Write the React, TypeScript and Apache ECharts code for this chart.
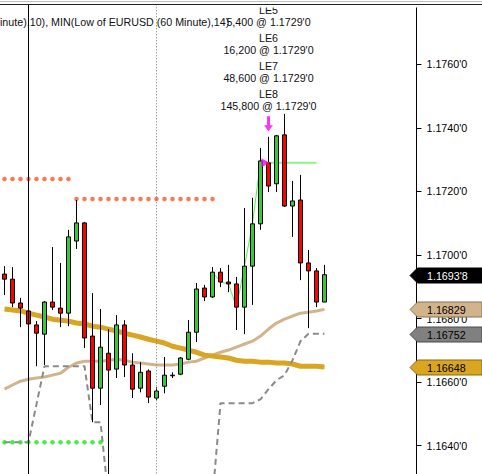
import React, { useEffect, useRef } from "react";
import * as echarts from "echarts";

// ---- data (EURUSD, 60 minute bars) ----
const OPENS = [
  1.1694, 1.16924, 1.16849, 1.16824, 1.1678, 1.16751, 1.16852, 1.16833, 1.16817, 1.17044,
  1.17101, 1.16745, 1.16581, 1.16691, 1.16641, 1.1678, 1.16654, 1.16581, 1.16635, 1.1655,
  1.16587, 1.1662, 1.16625, 1.16672, 1.16757, 1.16896, 1.16868, 1.16946, 1.16915, 1.16909,
  1.16836, 1.16965, 1.17098, 1.1729, 1.17224, 1.17378, 1.17154, 1.17173, 1.16975, 1.1695,
  1.16852,
];
const CLOSES = [
  1.16924, 1.16849, 1.16833, 1.16783, 1.16754, 1.16852, 1.16836, 1.16817, 1.17057, 1.17101,
  1.16739, 1.16581, 1.1671, 1.16638, 1.1678, 1.16654, 1.16578, 1.16631, 1.16553, 1.16572,
  1.16622, 1.16622, 1.16676, 1.16757, 1.16893, 1.16868, 1.16946, 1.16915, 1.16909, 1.16836,
  1.16965, 1.17098, 1.17296, 1.17217, 1.17375, 1.17154, 1.1717, 1.16975, 1.1695, 1.16852,
  1.16938,
];
const LOWS = [
  1.16874, 1.16836, 1.16773, 1.16757, 1.1665, 1.16654, 1.16827, 1.16773, 1.16776, 1.17019,
  1.16707, 1.16474, 1.16528, 1.16235, 1.16613, 1.16616, 1.1655, 1.16568, 1.16534, 1.16544,
  1.16565, 1.16613, 1.16622, 1.16669, 1.16726, 1.16855, 1.16865, 1.16899, 1.16883, 1.16764,
  1.16751, 1.16843, 1.17079, 1.17198, 1.17198, 1.17151, 1.17057, 1.16921, 1.1677, 1.16836,
  1.16852,
];
const HIGHS = [
  1.16965, 1.16962, 1.16865, 1.16836, 1.16792, 1.16855, 1.17025, 1.16975, 1.17079, 1.17173,
  1.17104, 1.1688, 1.1683, 1.16767, 1.16811, 1.16795, 1.16691, 1.16663, 1.1664, 1.16584,
  1.16679, 1.16631, 1.16679, 1.16795, 1.16912, 1.16906, 1.16962, 1.16959, 1.16969, 1.16931,
  1.17148, 1.1718, 1.17337, 1.17372, 1.17378, 1.17444, 1.17233, 1.17252, 1.17016, 1.16959,
  1.16969,
];
const GOLD_MA = [
  1.1683, 1.16827, 1.16824, 1.16817, 1.16811, 1.16805, 1.16798, 1.16795, 1.16792, 1.16786,
  1.16783, 1.16776, 1.16773, 1.16767, 1.16761, 1.16754, 1.16748, 1.16742, 1.16735, 1.16729,
  1.16723, 1.16713, 1.16707, 1.16701, 1.16694, 1.16685, 1.16682, 1.16679, 1.16676, 1.16669,
  1.16666, 1.16666, 1.16663, 1.16663, 1.1666, 1.1666, 1.16657, 1.1665, 1.1665, 1.1665,
  1.16648,
];
const TAN_MA = [
  1.16578, 1.16591, 1.16603, 1.16609, 1.16613, 1.16616, 1.16622, 1.16628, 1.16647, 1.1666,
  1.16666, 1.16666, 1.16666, 1.16669, 1.16672, 1.16669, 1.16663, 1.1666, 1.16657, 1.16654,
  1.16654, 1.16654, 1.16657, 1.16663, 1.16666, 1.16676, 1.16685, 1.16694, 1.16701, 1.1671,
  1.1672, 1.16729, 1.16745, 1.16767, 1.16786, 1.16798, 1.16808, 1.16817, 1.1682, 1.16824,
  1.16829,
];
const MIN_LOW = [
  1.16411, 1.16411, 1.16411, 1.16411, 1.16531, 1.1665, 1.1665, 1.1665, 1.1665, 1.1665,
  1.1665, 1.16474, 1.16474, 1.16235, 1.16235, 1.16235, 1.16235, 1.16235, 1.16235, 1.16235,
  1.16235, 1.16235, 1.16235, 1.16235, 1.16235, 1.16235, 1.16235, 1.16534, 1.16534, 1.16534,
  1.16534, 1.16534, 1.16546, 1.16578, 1.16606, 1.16622, 1.16669, 1.16729, 1.16752, 1.16752,
  1.16752,
];
const STOP_LEVELS = [
  { from: 0, to: 8, price: 1.17239 },
  { from: 9, to: 26, price: 1.17176 },
];
const SUPPORT_LEVEL = { from: 0, to: 12, price: 1.16411 };
const TRAIL_START = 26;
const TRAIL_PATH = [1.16946, 1.16915, 1.16909, 1.16836, 1.16965, 1.17098, 1.17296, 1.1729];
const ENTRY_BAR = 33;
const ENTRY_PRICE = 1.1729;
const POSITION_END = 39;
const ORDERS = [
  { name: "LE5", qty: "5,400" },
  { name: "LE6", qty: "16,200" },
  { name: "LE7", qty: "48,600" },
  { name: "LE8", qty: "145,800" },
];
const SESSION_BAR = 3;
const DOTTED_BAR = 19;
const LEGEND_TEXT = "inute),10), MIN(Low of EURUSD (60 Minute),14)";
const SLOTS = 52;
const Y_MIN = 1.162;
const Y_MAX = 1.1778806;
const Y_STEP = 0.002;

const FONT = '"Liberation Sans", Arial, sans-serif';
const FS = 10.7;

const fmtTS = (v: number) => {
  const s = v.toFixed(5);
  return s.slice(0, 6) + "'" + s.slice(6);
};

export default function App() {
  const ref = useRef<HTMLDivElement>(null);
  useEffect(() => {
    const chart = echarts.init(ref.current!, null, { renderer: "svg" });
    const cats = Array.from({ length: SLOTS }, (_, i) => String(i));
    const candles = OPENS.map((o, i) => [o, CLOSES[i], LOWS[i], HIGHS[i]]);
    const levelPts = (lv: { from: number; to: number; price: number }) => {
      const pts: any[] = [];
      for (let i = lv.from; i <= lv.to; i++) pts.push([String(i), lv.price]);
      return pts;
    };
    const trail = TRAIL_PATH.map((v, i) => [String(TRAIL_START + i), v]);
    const position: any[] = [];
    for (let i = ENTRY_BAR; i <= POSITION_END; i++) position.push([String(i), ENTRY_PRICE]);

    chart.setOption({
      animation: false,
      backgroundColor: "#ffffff",
      grid: {
        left: 0.5, width: 416, top: 4.5, height: 504.8,
        containLabel: false, outerBoundsMode: "none",
      },
      xAxis: { type: "category", data: cats, show: false, boundaryGap: true },
      yAxis: {
        type: "value",
        position: "right",
        min: Y_MIN,
        max: Y_MAX,
        interval: Y_STEP,
        axisLine: { show: true, lineStyle: { color: "#000", width: 1 } },
        axisTick: { show: true, length: 5, lineStyle: { color: "#000" } },
        splitLine: { show: false },
        axisLabel: {
          margin: 10,
          color: "#000",
          fontSize: FS,
          fontFamily: FONT,
          showMaxLabel: false,
          showMinLabel: false,
          formatter: (v: number) => v.toFixed(4) + "'0",
        },
      },
      series: [
        {
          type: "line", data: TAN_MA, symbol: "none", silent: true,
          lineStyle: { color: "#D2B48C", width: 3 }, z: 2,
        },
        {
          type: "line", data: GOLD_MA, symbol: "none", silent: true,
          lineStyle: { color: "#DAA520", width: 5 }, z: 2,
        },
        {
          type: "line", data: MIN_LOW, symbol: "none", silent: true,
          lineStyle: { color: "#8a8a8a", width: 2, type: [6, 4] }, z: 2,
        },
        ...STOP_LEVELS.map((lv) => ({
          type: "scatter", data: levelPts(lv), symbol: "circle", symbolSize: 4.5, silent: true,
          itemStyle: { color: "#ff5522" }, z: 2,
        })),
        {
          type: "scatter", data: levelPts(SUPPORT_LEVEL), symbol: "circle", symbolSize: 4.5, silent: true,
          itemStyle: { color: "#11ee11" }, z: 2,
        },
        {
          type: "line", data: trail, symbol: "none", silent: true,
          lineStyle: { color: "#55ee55", width: 1 }, z: 2,
        },
        {
          type: "line", data: position, symbol: "none", silent: true,
          lineStyle: { color: "#88f888", width: 2 }, z: 2,
        },
        {
          type: "candlestick",
          data: candles,
          barWidth: 5,
          silent: true,
          z: 3,
          itemStyle: {
            color: "#33cc33",
            color0: "#ff0000",
            borderColor: "#000",
            borderColor0: "#000",
            borderColorDoji: "#000",
            borderWidth: 1,
          },
          markLine: {
            silent: true,
            symbol: "none",
            label: { show: false },
            data: [
              { xAxis: SESSION_BAR, lineStyle: { color: "#000", width: 1, type: "solid" } },
              { xAxis: DOTTED_BAR, lineStyle: { color: "#777", width: 1, type: [1, 2] } },
            ],
          },
        },
        {
          type: "scatter",
          data: [[String(ENTRY_BAR), HIGHS[ENTRY_BAR]]],
          symbol: "path://M3,0 L6,0 L6,9 L9,9 L4.5,15 L0,9 L3,9 Z",
          symbolSize: [9, 15],
          symbolOffset: [0, -13],
          silent: true,
          itemStyle: { color: "#ff00ff" },
          z: 4,
        },
        {
          type: "scatter",
          data: [[String(ENTRY_BAR), ENTRY_PRICE]],
          symbol: "triangle",
          symbolSize: [9, 8],
          symbolRotate: -90,
          symbolOffset: [-3, 0],
          silent: true,
          itemStyle: { color: "#ff00ff" },
          z: 4,
        },
      ],
    });

    const xPix = (i: number) => chart.convertToPixel({ xAxisIndex: 0 }, String(i)) as number;
    const yPix = (v: number) => chart.convertToPixel({ yAxisIndex: 0 }, v) as number;

    const tagDefs = [
      { value: CLOSES[CLOSES.length - 1], text: fmtTS(CLOSES[CLOSES.length - 1]), fill: "#000", stroke: "#000", color: "#fff" },
      { value: TAN_MA[TAN_MA.length - 1], text: TAN_MA[TAN_MA.length - 1].toFixed(5), fill: "#D2B48C", stroke: "#8b7355", color: "#000" },
      { value: MIN_LOW[MIN_LOW.length - 1], text: MIN_LOW[MIN_LOW.length - 1].toFixed(5), fill: "#808080", stroke: "#4a4a4a", color: "#000" },
      { value: GOLD_MA[GOLD_MA.length - 1], text: GOLD_MA[GOLD_MA.length - 1].toFixed(5), fill: "#DAA520", stroke: "#8b6914", color: "#000" },
    ];
    const graphics: any[] = [];
    tagDefs.forEach((t) => {
      const y = Math.round(yPix(t.value)) + 0.5;
      graphics.push({
        type: "polygon",
        z: 20,
        shape: { points: [[410, y], [417.5, y - 7.5], [482, y - 7.5], [482, y + 7.5], [417.5, y + 7.5]] },
        style: { fill: t.fill, stroke: t.stroke, lineWidth: 1 },
      });
      graphics.push({
        type: "text",
        z: 21,
        x: 427,
        y: y + 0.5,
        style: { text: t.text, fill: t.color, font: `${FS}px ${FONT}`, verticalAlign: "middle", align: "left" },
      });
    });

    const cx = xPix(ENTRY_BAR);
    ORDERS.forEach((o, i) => {
      graphics.push({
        type: "text", z: 0, x: cx, y: 10 + 28 * i,
        style: { text: o.name, fill: "#111", font: `${FS}px ${FONT}`, align: "center", verticalAlign: "middle" },
      });
      graphics.push({
        type: "text", z: 0, x: cx, y: 22 + 28 * i,
        style: { text: `${o.qty} @ ${fmtTS(ENTRY_PRICE)}`, fill: "#111", font: `${FS}px ${FONT}`, align: "center", verticalAlign: "middle" },
      });
    });
    graphics.push({
      type: "text", z: 0, x: 0, y: 22,
      style: { text: LEGEND_TEXT, fill: "#111", font: `${FS}px ${FONT}`, align: "left", verticalAlign: "middle" },
    });
    graphics.push({ type: "rect", z: 1, shape: { x: 0, y: 0, width: 482, height: 7.5 }, style: { fill: "#fff" } });
    graphics.push({ type: "line", z: 20, shape: { x1: 0, y1: 1.5, x2: 482, y2: 1.5 }, style: { stroke: "#bdbdbd", lineWidth: 1 } });
    graphics.push({ type: "line", z: 20, shape: { x1: 0, y1: 4.5, x2: 482, y2: 4.5 }, style: { stroke: "#222", lineWidth: 1 } });

    chart.setOption({ graphic: graphics });
    return () => chart.dispose();
  }, []);
  return (
    <div
      ref={ref}
      style={{ position: "fixed", left: 0, top: 0, width: 482, height: 474, background: "#fff" }}
    />
  );
}
